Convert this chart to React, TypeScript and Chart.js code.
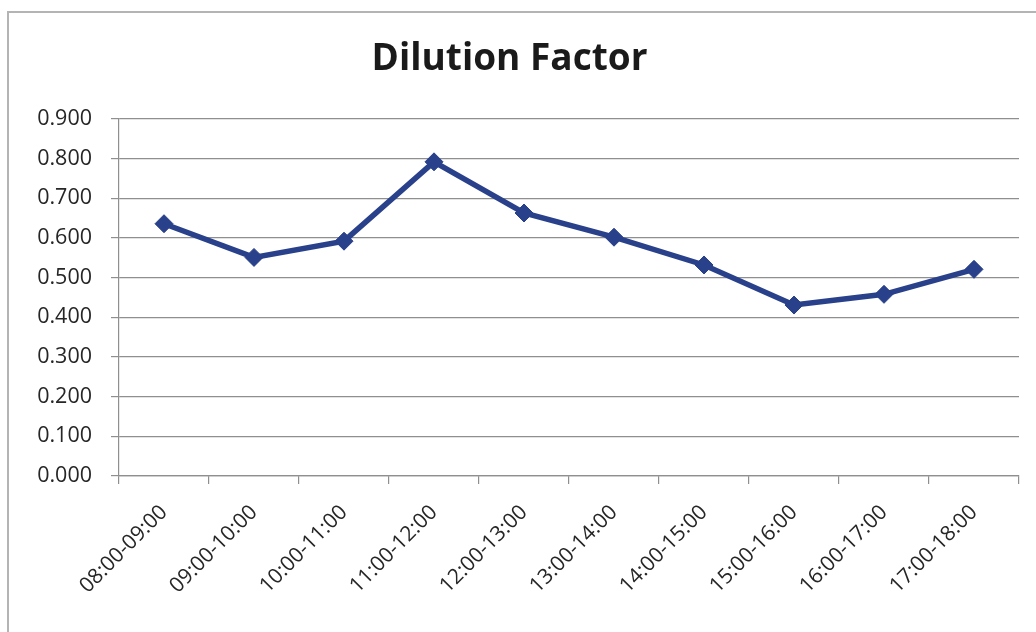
import React, { useEffect, useRef } from "react";
import { Chart, registerables } from "chart.js";

Chart.register(...registerables);

const categories = [
  "08:00-09:00",
  "09:00-10:00",
  "10:00-11:00",
  "11:00-12:00",
  "12:00-13:00",
  "13:00-14:00",
  "14:00-15:00",
  "15:00-16:00",
  "16:00-17:00",
  "17:00-18:00",
];
const dilutionFactor = [0.636, 0.551, 0.592, 0.792, 0.663, 0.602, 0.532, 0.431, 0.458, 0.521];
const chartTitle = "Dilution Factor";
const yMin = 0;
const yMax = 0.9;
const yStep = 0.1;

const framePlugin = {
  id: "frame",
  beforeDraw(chart: any) {
    const ctx = chart.ctx;
    ctx.save();
    ctx.fillStyle = "#ffffff";
    ctx.fillRect(0, 0, chart.width, chart.height);
    ctx.strokeStyle = "#b4b4b4";
    ctx.lineWidth = 2;
    ctx.beginPath();
    ctx.moveTo(8, chart.height + 2);
    ctx.lineTo(8, 12);
    ctx.lineTo(chart.width + 2, 12);
    ctx.stroke();
    ctx.restore();
  },
};

export default function App() {
  const ref = useRef<HTMLCanvasElement>(null);
  useEffect(() => {
    if (!ref.current) return;
    const chart = new Chart(ref.current, {
      type: "line",
      data: {
        labels: categories,
        datasets: [
          {
            label: chartTitle,
            data: dilutionFactor,
            borderColor: "#29408a",
            backgroundColor: "#29408a",
            borderWidth: 5.5,
            pointStyle: "rectRot",
            pointRadius: 9,
            pointBackgroundColor: "#29408a",
            pointBorderColor: "#29408a",
            pointBorderWidth: 1,
            tension: 0,
          },
        ],
      },
      options: {
        responsive: false,
        animation: false,
        layout: { padding: { left: 0, right: 17, top: 0, bottom: 0 } },
        plugins: {
          legend: { display: false },
          tooltip: { enabled: false },
          title: {
            display: true,
            text: chartTitle,
            color: "#1a1a1a",
            font: { family: "'Open Sans', sans-serif", size: 37, weight: "bold" },
            padding: { top: 37, bottom: 37.6 },
          },
        },
        scales: {
          x: {
            type: "category",
            offset: true,
            grid: {
              display: true,
              offset: true,
              drawOnChartArea: false,
              drawTicks: true,
              tickLength: 8,
              color: "#8f8f8f",
              lineWidth: 1.2,
            },
            border: { display: true, color: "#8f8f8f", width: 1.2 },
            ticks: {
              minRotation: 45,
              maxRotation: 45,
              autoSkip: false,
              padding: 16,
              color: "#262626",
              font: { family: "'Open Sans', sans-serif", size: 21 },
            },
            afterFit(scale: any) {
              scale.height = 156;
            },
          },
          y: {
            min: yMin,
            max: yMax,
            grid: {
              color: "#8f8f8f",
              lineWidth: 1.2,
              drawTicks: true,
              tickLength: 8,
            },
            border: { display: true, color: "#8f8f8f", width: 1.2 },
            ticks: {
              stepSize: yStep,
              padding: 19,
              color: "#262626",
              font: { family: "'Open Sans', sans-serif", size: 21.5 },
              callback: (v: any) => Number(v).toFixed(3),
            },
            afterFit(scale: any) {
              scale.width = 119;
            },
          },
        },
      },
      plugins: [framePlugin],
    });
    return () => chart.destroy();
  }, []);
  return (
    <div style={{ position: "fixed", left: 0, top: 0, width: 1036, height: 632 }}>
      <canvas ref={ref} width={1036} height={632} style={{ display: "block" }} />
    </div>
  );
}
